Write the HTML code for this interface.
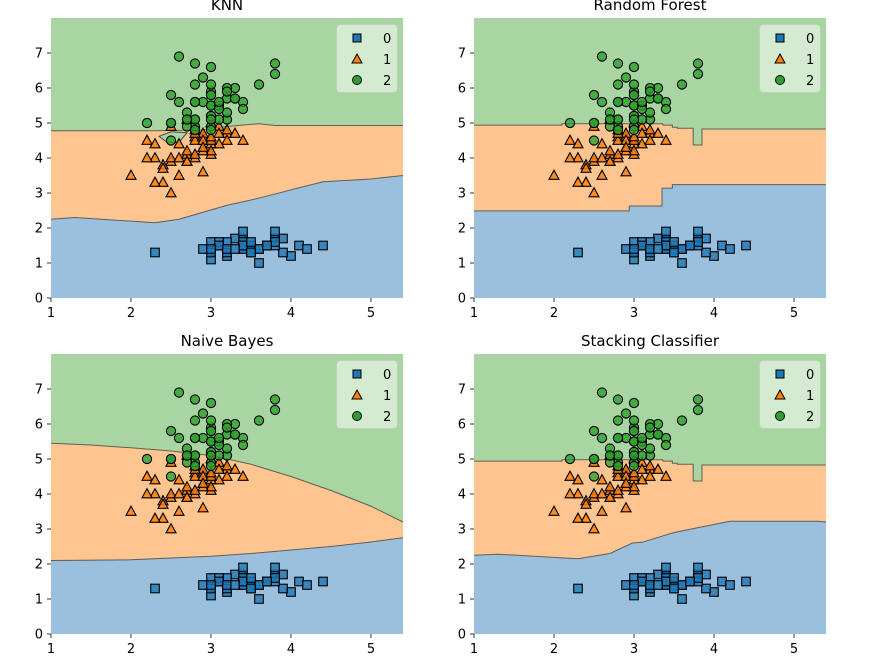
<!DOCTYPE html>
<html><head><meta charset="utf-8"><style>
body{margin:0;background:#fff;}
svg{display:block;font-family:"DejaVu Sans","Liberation Sans",sans-serif;}
</style></head><body>
<svg id="fig" width="879" height="666" xmlns="http://www.w3.org/2000/svg"></svg>
<script>
// iris: sepal width (x), petal length (y)
const setosaX=[3.5,3.0,3.2,3.1,3.6,3.9,3.4,3.4,2.9,3.1,3.7,3.4,3.0,3.0,4.0,4.4,3.9,3.5,3.8,3.8,3.4,3.7,3.6,3.3,3.4,3.0,3.4,3.5,3.4,3.2,3.1,3.4,4.1,4.2,3.1,3.2,3.5,3.6,3.0,3.4,3.5,2.3,3.2,3.5,3.8,3.0,3.8,3.2,3.7,3.3];
const setosaY=[1.4,1.4,1.3,1.5,1.4,1.7,1.4,1.5,1.4,1.5,1.5,1.6,1.4,1.1,1.2,1.5,1.3,1.4,1.7,1.5,1.7,1.5,1.0,1.7,1.9,1.6,1.6,1.5,1.4,1.6,1.6,1.5,1.5,1.4,1.5,1.2,1.3,1.4,1.3,1.5,1.3,1.3,1.3,1.6,1.9,1.4,1.6,1.4,1.5,1.4];
const versiX=[3.2,3.2,3.1,2.3,2.8,2.8,3.3,2.4,2.9,2.7,2.0,3.0,2.2,2.9,2.9,3.1,3.0,2.7,2.2,2.5,3.2,2.8,2.5,2.8,2.9,3.0,2.8,3.0,2.9,2.6,2.4,2.4,2.7,2.7,3.0,3.4,3.1,2.3,3.0,2.5,2.6,3.0,2.6,2.3,2.7,3.0,2.9,2.9,2.5,2.8];
const versiY=[4.7,4.5,4.9,4.0,4.6,4.5,4.7,3.3,4.6,3.9,3.5,4.2,4.0,4.7,3.6,4.4,4.5,4.1,4.5,3.9,4.8,4.0,4.9,4.7,4.3,4.4,4.8,5.0,4.5,3.5,3.8,3.7,3.9,5.1,4.5,4.5,4.7,4.4,4.1,4.0,4.4,4.6,4.0,3.3,4.2,4.2,4.2,4.3,3.0,4.1];
const virgX=[3.3,2.7,3.0,2.9,3.0,3.0,2.5,2.9,2.5,3.6,3.2,2.7,3.0,2.5,2.8,3.2,3.0,3.8,2.6,2.2,3.2,2.8,2.8,2.7,3.3,3.2,2.8,3.0,2.8,3.0,2.8,3.8,2.8,2.8,2.6,3.0,3.4,3.1,3.0,3.1,3.1,3.1,2.7,3.2,3.3,3.0,2.5,3.0,3.4,3.0];
const virgY=[6.0,5.1,5.9,5.6,5.8,6.6,4.5,6.3,5.8,6.1,5.1,5.3,5.5,5.0,5.1,5.3,5.5,6.7,6.9,5.0,5.7,4.9,6.7,4.9,5.7,6.0,4.8,4.9,5.6,5.8,6.1,6.4,5.6,5.1,5.6,6.1,5.6,5.5,4.8,5.4,5.6,5.1,5.1,5.9,5.7,5.2,5.0,5.2,5.4,5.1];
// decision boundaries (x, y) per panel
const knnUpX=[1,2.3,2.9,3.2,3.6,3.8,5.4], knnUpY=[4.78,4.78,4.8,4.9,4.98,4.93,4.93];
const knnLoX=[1,1.3,2.3,2.6,2.9,3.2,3.5,3.8,4.1,4.4,5,5.4], knnLoY=[2.25,2.3,2.15,2.25,2.45,2.65,2.8,2.97,3.15,3.32,3.4,3.5];
const rfUpX=[1,2.1,2.1,2.48,3.36,3.36,3.48,3.48,3.54,3.54,3.74,3.74,3.85,3.85,5.4], rfUpY=[4.94,4.94,4.98,4.98,4.98,4.94,4.94,4.88,4.88,4.85,4.85,4.37,4.37,4.83,4.83];
const rfLoX=[1,2.94,2.94,3.35,3.35,3.48,3.48,5.4], rfLoY=[2.49,2.49,2.63,2.63,3.14,3.14,3.24,3.24];
const nbUpX=[1,1.5,2,2.5,3,3.5,4,4.5,5,5.4], nbUpY=[5.45,5.4,5.32,5.23,5.1,4.85,4.5,4.1,3.65,3.2];
const nbLoX=[1,2,3,3.5,4,4.5,5,5.4], nbLoY=[2.1,2.12,2.22,2.3,2.4,2.5,2.63,2.75];
const stUpX=rfUpX, stUpY=rfUpY;
const stLoX=[1,1.3,2.3,2.7,2.98,3.1,3.5,4.2,5.3,5.4], stLoY=[2.25,2.28,2.15,2.3,2.6,2.62,2.9,3.22,3.22,3.2];
const xTicks=[1,2,3,4,5], yTicks=[0,1,2,3,4,5,6,7];
const titles=["KNN","Random Forest","Naive Bayes","Stacking Classifier"];
const classLabels=["0","1","2"];

const NS="http://www.w3.org/2000/svg";
const svg=document.getElementById('fig');
function mk(t,a,p){const e=document.createElementNS(NS,t);for(const k in a)e.setAttribute(k,a[k]);(p||svg).appendChild(e);return e;}
const panels=[
 {x0:51,y0:18,up:[knnUpX,knnUpY],lo:[knnLoX,knnLoY],name:"knn"},
 {x0:474,y0:18,up:[rfUpX,rfUpY],lo:[rfLoX,rfLoY],name:"random-forest"},
 {x0:51,y0:354,up:[nbUpX,nbUpY],lo:[nbLoX,nbLoY],name:"naive-bayes"},
 {x0:474,y0:354,up:[stUpX,stUpY],lo:[stLoX,stLoY],name:"stacking"}];
const W=352,H=280,XMIN=1,XMAX=5.4,YMIN=0,YMAX=8;
panels.forEach((p,i)=>{
 const g=mk('g',{});
 
 
 const sx=v=>p.x0+(v-XMIN)/(XMAX-XMIN)*W, sy=v=>p.y0+H-(v-YMIN)/(YMAX-YMIN)*H;
 const bottom=p.y0+H;
 const green=mk('rect',{x:p.x0,y:p.y0,width:W,height:H,fill:'#a8d5a2'},g);
 
 const poly=(bx,by,fill,nm)=>{let d='M'+sx(bx[0])+','+bottom;bx.forEach((x,k)=>d+=' L'+sx(x)+','+sy(by[k]));d+=' L'+sx(bx[bx.length-1])+','+bottom+' Z';
  const e=mk('path',{d:d,fill:fill},g);
  let l='';bx.forEach((x,k)=>l+=(k?' L':'M')+sx(x)+','+sy(by[k]));
  const ln=mk('path',{d:l,fill:'none',stroke:'#444',"stroke-width":1,"stroke-opacity":0.8},g);};
 poly(p.up[0],p.up[1],'#ffc591','region-1');
 poly(p.lo[0],p.lo[1],'#9bc0dd','region-0');
 if(i===0){const b=mk('path',{d:`M${sx(2.35)},${sy(4.62)} L${sx(2.5)},${sy(4.75)} L${sx(2.7)},${sy(4.72)} L${sx(2.6)},${sy(4.45)} L${sx(2.45)},${sy(4.45)} Z`,fill:'#a8d5a2',stroke:'#444','stroke-width':1},g);
  }
 setosaX.forEach((x,k)=>{const e=mk('rect',{x:sx(x)-4.3,y:sy(setosaY[k])-4.3,width:8.6,height:8.6,fill:'#1f77b4','fill-opacity':0.8,stroke:'#000','stroke-width':1.1},g);});
 versiX.forEach((x,k)=>{const cx=sx(x),cy=sy(versiY[k]);const e=mk('polygon',{points:`${cx},${cy-5.3} ${cx+5},${cy+3.8} ${cx-5},${cy+3.8}`,fill:'#ff7f0e','fill-opacity':0.85,stroke:'#000','stroke-width':1.1},g);});
 virgX.forEach((x,k)=>{const e=mk('circle',{cx:sx(x),cy:sy(virgY[k]),r:4.6,fill:'#2ca02c','fill-opacity':0.8,stroke:'#000','stroke-width':1.1},g);});
 xTicks.forEach(v=>{mk('line',{x1:sx(v),x2:sx(v),y1:bottom,y2:bottom+4,stroke:'#000','stroke-width':0.8},g);
  const t=mk('text',{x:sx(v),y:bottom+19,'text-anchor':'middle','font-size':13,fill:'#000'},g);t.textContent=v;});
 yTicks.forEach(v=>{mk('line',{x1:p.x0-4,x2:p.x0,y1:sy(v),y2:sy(v),stroke:'#000','stroke-width':0.8},g);
  const t=mk('text',{x:p.x0-8,y:sy(v)+4.5,'text-anchor':'end','font-size':13,fill:'#000'},g);t.textContent=v;});
 const tt=mk('text',{x:p.x0+W/2,y:p.y0-8,'text-anchor':'middle','font-size':15,fill:'#000'},g);tt.textContent=titles[i];
 
 const lg=mk('g',{},g);
 const lx=p.x0+W-66,ly=p.y0+7;
 mk('rect',{x:lx,y:ly,width:60,height:67,rx:3,fill:'#fff','fill-opacity':0.5,stroke:'#ddd','stroke-opacity':0.5},lg);
 classLabels.forEach((c,k)=>{const cy=ly+13+k*21,cx=lx+20;let m;
  if(k===0)m=mk('rect',{x:cx-4,y:cy-4,width:8,height:8,fill:'#1f77b4',stroke:'#000','stroke-width':1},lg);
  else if(k===1)m=mk('polygon',{points:`${cx},${cy-5} ${cx+5},${cy+4} ${cx-5},${cy+4}`,fill:'#ff7f0e',stroke:'#000','stroke-width':1},lg);
  else m=mk('circle',{cx:cx,cy:cy,r:4.5,fill:'#2ca02c',stroke:'#000','stroke-width':1},lg);
  
  const t=mk('text',{x:lx+46,y:cy+5,'text-anchor':'start','font-size':13,fill:'#000'},lg);t.textContent=c;
  });
});
</script>
</body></html>
